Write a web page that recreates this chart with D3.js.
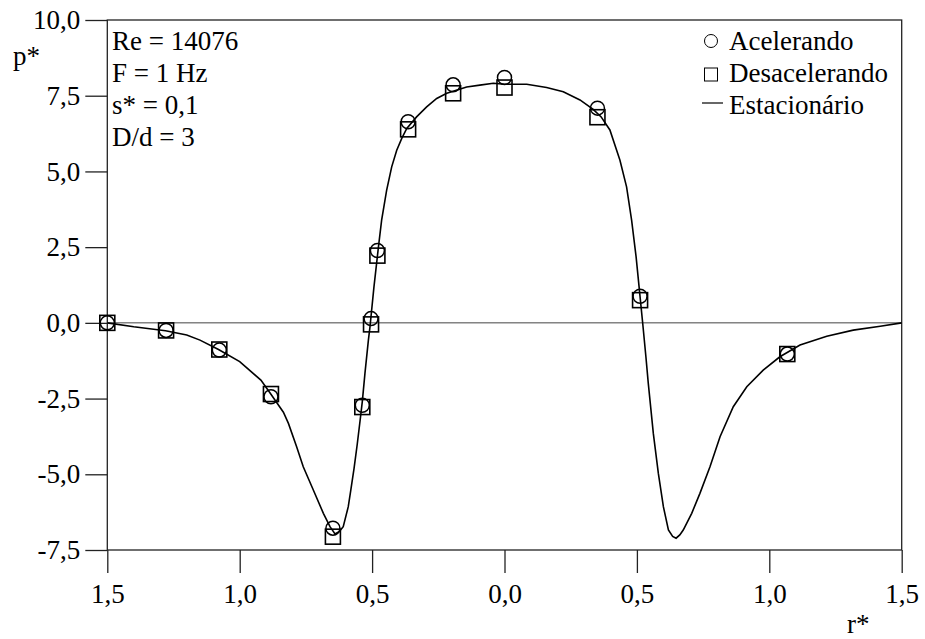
<!DOCTYPE html>
<html>
<head>
<meta charset="utf-8">
<script src="https://cdn.jsdelivr.net/npm/d3@7"></script>
<style>
body { margin: 0; background: #fff; }
</style>
</head>
<body>
<svg id="chart" width="925" height="639"></svg>
<script>

// measured points, accelerating and decelerating flow
var rPts = [-1.5, -1.278, -1.077, -0.882, -0.648, -0.537, -0.504, -0.48, -0.364, -0.194, 0.0, 0.351, 0.512, 1.068]

var pAcel = [0.0, -0.25, -0.9, -2.44, -6.78, -2.72, 0.14, 2.39, 6.64, 7.86, 8.1, 7.09, 0.88, -1.03]

var pDesa = [0.0, -0.25, -0.88, -2.35, -7.06, -2.78, -0.05, 2.22, 6.39, 7.58, 7.77, 6.79, 0.75, -1.03]

// steady flow curve
var rEst = [-1.5, -1.40, -1.28, -1.20, -1.15, -1.08, -1.00, -0.92, -0.88, -0.835, -0.816, -0.785, -0.76, -0.722,
            -0.684, -0.659, -0.64, -0.625, -0.609, -0.59, -0.58, -0.568, -0.556, -0.545, -0.537, -0.527, -0.514,
            -0.508, -0.493, -0.476, -0.464, -0.445, -0.426, -0.407, -0.388, -0.369, -0.332, -0.294, -0.256, -0.218,
            -0.143, -0.093, -0.042, 0.0, 0.084, 0.159, 0.222, 0.285, 0.335, 0.365, 0.398, 0.436, 0.461, 0.48, 0.497,
            0.512, 0.522, 0.534, 0.543, 0.562, 0.581, 0.60, 0.619, 0.635, 0.648, 0.662, 0.675, 0.707, 0.738, 0.776,
            0.814, 0.864, 0.915, 0.977, 1.04, 1.116, 1.217, 1.317, 1.419, 1.5]

var pEst = [0.0, -0.13, -0.26, -0.40, -0.57, -0.88, -1.28, -1.89, -2.38, -2.95, -3.32, -4.09, -4.75, -5.52,
            -6.29, -6.73, -6.97, -6.90, -6.73, -6.07, -5.5, -4.8, -4.0, -3.2, -2.6, -1.67, -0.57,
            -0.13, 1.19, 2.51, 3.39, 4.38, 5.15, 5.70, 6.09, 6.42, 6.80, 7.13, 7.41, 7.58,
            7.79, 7.85, 7.91, 7.88, 7.88, 7.77, 7.63, 7.36, 7.05, 6.80, 6.37, 5.37, 4.49, 3.39, 2.18,
            0.86, -0.02, -1.12, -2.0, -3.65, -4.97, -6.07, -6.84, -7.05, -7.11, -7.0, -6.84, -6.29, -5.63, -4.75,
            -3.76, -2.77, -2.11, -1.56, -1.12, -0.73, -0.44, -0.24, -0.11, 0.0]

var xTicks = [-1.5, -1.0, -0.5, 0.0, 0.5, 1.0, 1.5]
var yTicks = [-7.5, -5.0, -2.5, 0.0, 2.5, 5.0, 7.5, 10.0]

var infoLines = ["Re = 14076", "F = 1 Hz", "s* = 0,1", "D/d = 3"]
var legendNames = ["Acelerando", "Desacelerando", "Estacionário"]

var serif = "'Liberation Serif', 'Times New Roman', Times, serif"


var svg = d3.select('#chart')

var x = d3.scaleLinear()
            .domain([-1.5, 1.5])
            .range([107.3, 901.7])

var y = d3.scaleLinear()
            .domain([-7.5, 10])
            .range([550, 20])

var fmt = function(d) { return Math.abs(d).toFixed(1).replace(".", ",") }

// axes
var xAxis = svg.append("g")
                .attr("transform", "translate(0," + y(-7.5) + ")")
                .call(d3.axisBottom(x)
                        .tickValues(xTicks)
                        .tickSize(23)
                        .tickSizeOuter(0)
                        .tickPadding(11)
                        .tickFormat(fmt))

var yAxis = svg.append("g")
                .attr("transform", "translate(" + x(-1.5) + ",0)")
                .call(d3.axisLeft(y)
                        .tickValues(yTicks)
                        .tickSize(22)
                        .tickSizeOuter(0)
                        .tickPadding(5)
                        .tickFormat(function(d) { return d.toFixed(1).replace(".", ",") }))

svg.selectAll(".domain").remove()
svg.selectAll(".tick line")
        .attr("stroke", "#222")
        .attr("stroke-width", 1.3)
svg.selectAll(".tick text")
        .attr("fill", "#000")

// frame
svg.append("rect")
        .attr("x", x(-1.5))
        .attr("y", y(10))
        .attr("width", x(1.5) - x(-1.5))
        .attr("height", y(-7.5) - y(10))
        .attr("fill", "none")
        .attr("stroke", "#222")
        .attr("stroke-width", 1.3)

// zero line
svg.append("line")
        .attr("x1", x(-1.5))
        .attr("x2", x(1.5))
        .attr("y1", y(0))
        .attr("y2", y(0))
        .attr("stroke", "#444")
        .attr("stroke-width", 1)

// steady curve
var line = d3.line()
            .x(function(d, i) { return x(rEst[i]) })
            .y(function(d, i) { return y(pEst[i]) })

svg.append("path")
        .datum(pEst)
        .attr("d", line)
        .attr("fill", "none")
        .attr("stroke", "#000")
        .attr("stroke-width", 1.6)

// markers
svg.append("g")
        .selectAll("circle")
        .data(pAcel)
        .enter()
        .append("circle")
        .attr("cx", function(d, i) { return x(rPts[i]) })
        .attr("cy", function(d) { return y(d) })
        .attr("r", 7)
        .attr("fill", "none")
        .attr("stroke", "#000")
        .attr("stroke-width", 1.5)

svg.append("g")
        .selectAll("rect")
        .data(pDesa)
        .enter()
        .append("rect")
        .attr("x", function(d, i) { return x(rPts[i]) - 7.5 })
        .attr("y", function(d) { return y(d) - 7.5 })
        .attr("width", 15)
        .attr("height", 15)
        .attr("fill", "none")
        .attr("stroke", "#000")
        .attr("stroke-width", 1.6)

// axis titles
svg.append("text")
        .attr("x", 13)
        .attr("y", 65)
        .text("p*")

svg.append("text")
        .attr("x", 847)
        .attr("y", 633)
        .text("r*")

// parameters box
svg.append("g")
        .selectAll("text")
        .data(infoLines)
        .enter()
        .append("text")
        .attr("x", 112)
        .attr("y", function(d, i) { return 50 + i * 32 })
        .text(function(d) { return d })

// legend
var legend = svg.append("g")

legend.selectAll("text")
        .data(legendNames)
        .enter()
        .append("text")
        .attr("x", 729)
        .attr("y", function(d, i) { return 50 + i * 32 })
        .text(function(d) { return d })

legend.append("circle")
        .attr("cx", 711)
        .attr("cy", 41)
        .attr("r", 6.5)
        .attr("fill", "none")
        .attr("stroke", "#000")
        .attr("stroke-width", 1)

legend.append("rect")
        .attr("x", 704.5)
        .attr("y", 68)
        .attr("width", 13)
        .attr("height", 13)
        .attr("fill", "none")
        .attr("stroke", "#000")
        .attr("stroke-width", 1)

legend.append("line")
        .attr("x1", 702)
        .attr("x2", 723)
        .attr("y1", 103)
        .attr("y2", 103)
        .attr("stroke", "#000")
        .attr("stroke-width", 1.2)

svg.selectAll("text")
        .style("font-family", serif)
        .style("font-size", "27px")

</script>
</body>
</html>
